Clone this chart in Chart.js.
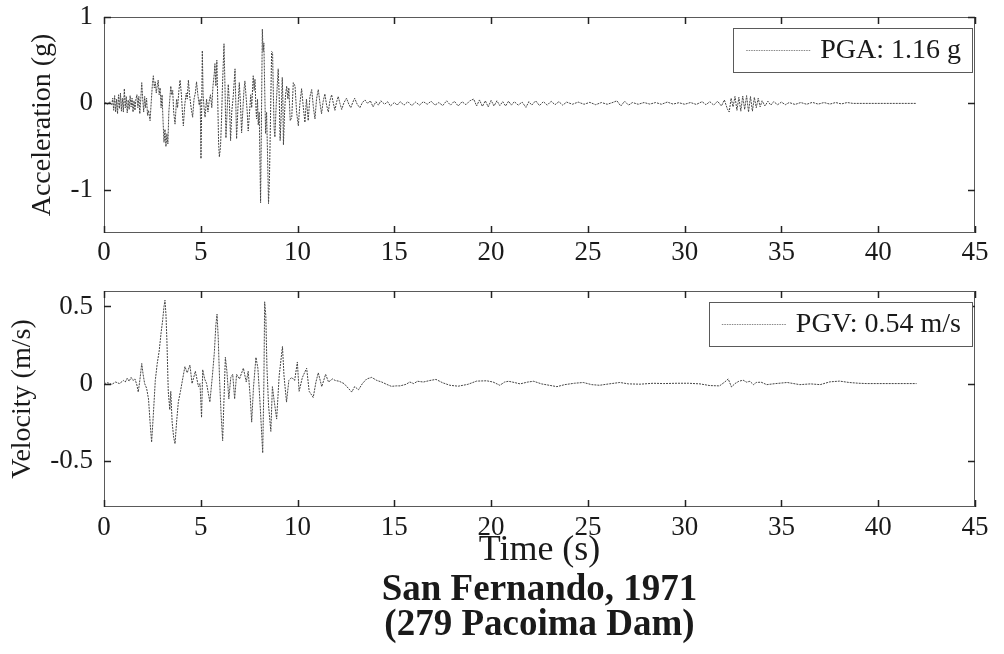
<!DOCTYPE html>
<html>
<head>
<meta charset="utf-8">
<script src="https://cdn.jsdelivr.net/npm/chart.js@4.4.1/dist/chart.umd.min.js"></script>
<style>
  html, body { margin: 0; padding: 0; background: #fff; }
  #wrap { position: relative; width: 1004px; height: 654px; }
  #accBox { position: absolute; left: 0; top: 0; width: 1004px; height: 270px; }
  #velBox { position: absolute; left: 0; top: 270px; width: 1004px; height: 384px; }
</style>
</head>
<body>
<div id="wrap">
  <div id="accBox"><canvas id="accChart"></canvas></div>
  <div id="velBox"><canvas id="velChart"></canvas></div>
</div>
<script>
// ---- data ----
const timeTicks = [0, 5, 10, 15, 20, 25, 30, 35, 40, 45];
const accTicks  = [-1, 0, 1];
const velTicks  = [-0.5, 0, 0.5];

const pgaLabel = 'PGA: 1.16 g';
const pgvLabel = 'PGV: 0.54 m/s';

// [time (s), acceleration (g)]
const accRecord = [
  [0,0],[0.1,0.01],[0.2,-0.01],[0.3,0.02],[0.4,-0.02],
  [0.45,0.06],[0.5,-0.08],[0.55,0.09],[0.6,-0.1],[0.65,0.05],[0.7,-0.12],[0.75,0.1],[0.8,-0.06],
  [0.85,0.12],[0.9,-0.09],[0.95,0.06],[1.0,-0.1],[1.05,0.17],[1.1,-0.05],[1.15,0.08],[1.2,-0.11],
  [1.25,0.04],[1.3,-0.07],[1.35,0.09],[1.4,-0.04],[1.45,0.06],[1.5,-0.1],[1.55,0.03],[1.6,-0.08],
  [1.65,0.05],[1.7,0.1],[1.75,-0.05],[1.8,0.08],[1.85,-0.12],[1.9,0.05],[1.95,0.24],[2.0,0.05],
  [2.05,-0.1],[2.1,0.08],[2.15,-0.05],[2.2,0.06],[2.25,-0.14],[2.3,-0.08],[2.38,-0.2],[2.45,0.05],
  [2.5,0.22],[2.55,0.32],[2.6,0.18],[2.65,0.25],[2.7,0.12],[2.75,0.2],[2.8,0.27],[2.85,0.1],
  [2.9,0.18],[2.95,-0.05],[3.0,0.1],[3.05,-0.2],[3.1,-0.45],[3.15,-0.3],[3.2,-0.5],[3.25,-0.35],
  [3.3,-0.47],[3.35,-0.1],[3.4,0.05],[3.45,0.2],[3.5,0.1],[3.55,0.15],[3.6,-0.1],[3.67,-0.24],
  [3.75,0.05],[3.8,-0.05],[3.87,0.15],[3.93,0.27],[4.0,0.1],[4.05,-0.1],[4.1,-0.26],[4.18,0.0],
  [4.25,0.12],[4.3,0.05],[4.36,0.27],[4.42,0.1],[4.5,-0.05],[4.58,-0.16],[4.65,0.05],[4.72,0.12],
  [4.78,0.25],[4.85,0.1],[4.92,-0.02],[4.97,0.05],[5.01,-0.64],[5.05,0.0],[5.08,0.61],[5.12,0.1],
  [5.17,-0.05],[5.22,-0.16],[5.3,0.05],[5.37,-0.1],[5.43,0.02],[5.5,0.1],[5.57,-0.05],[5.63,0.2],
  [5.7,0.35],[5.73,0.46],[5.78,0.2],[5.83,0.5],[5.88,0.0],[5.92,-0.45],[5.96,-0.62],[6.02,-0.5],
  [6.07,-0.2],[6.12,0.2],[6.2,0.69],[6.25,0.2],[6.3,-0.4],[6.36,-0.1],[6.42,0.22],[6.48,0.0],
  [6.54,-0.43],[6.6,-0.1],[6.65,0.02],[6.68,0.09],[6.77,0.4],[6.81,0.0],[6.85,-0.41],[6.92,-0.05],
  [6.99,0.24],[7.05,0.0],[7.11,-0.34],[7.18,-0.05],[7.23,0.15],[7.28,0.26],[7.35,0.05],[7.4,-0.1],
  [7.45,-0.32],[7.52,-0.1],[7.58,0.1],[7.63,-0.05],[7.71,0.32],[7.76,0.15],[7.8,0.28],[7.84,0.0],
  [7.88,-0.18],[7.93,0.05],[7.97,-0.25],[8.02,-0.1],[8.09,-1.15],[8.13,-0.3],[8.18,0.86],[8.22,0.6],
  [8.26,0.7],[8.3,0.2],[8.35,-0.35],[8.4,-0.1],[8.45,-0.6],[8.5,-1.16],[8.55,-0.85],[8.6,-0.2],
  [8.66,0.6],[8.71,0.59],[8.75,0.1],[8.79,-0.29],[8.83,-0.39],[8.9,0.0],[8.95,0.2],[9.0,0.4],
  [9.05,0.1],[9.1,-0.43],[9.16,-0.1],[9.21,0.3],[9.24,0.05],[9.27,-0.48],[9.33,-0.1],[9.38,0.1],
  [9.44,0.2],[9.5,0.05],[9.55,0.18],[9.62,-0.2],[9.7,-0.16],[9.78,0.24],[9.87,0.2],[9.95,-0.1],
  [10.04,-0.26],[10.12,0.0],[10.21,0.17],[10.3,-0.05],[10.38,-0.22],[10.46,0.05],[10.55,-0.2],[10.64,0.08],
  [10.73,0.16],[10.82,-0.05],[10.9,-0.18],[10.98,0.05],[11.07,0.16],[11.16,0.0],[11.24,-0.12],[11.32,0.02],
  [11.41,0.11],[11.5,-0.02],[11.59,-0.1],[11.67,0.03],[11.76,0.1],[11.85,0.0],[11.93,-0.08],[12.02,0.02],
  [12.1,0.08],[12.19,0.0],[12.28,-0.07],[12.4,0.01],[12.53,0.06],[12.65,-0.01],[12.75,-0.05],[12.85,0.01],
  [12.95,0.06],[13.08,-0.01],[13.22,-0.05],[13.35,0.01],[13.48,0.04],[13.62,0.0],[13.76,0.03],[13.9,-0.04],
  [14.05,0.02],[14.18,-0.02],[14.3,0.03],[14.5,-0.01],[14.65,0.02],[14.8,-0.03],[15.0,0.01],[15.15,-0.02],
  [15.3,0.02],[15.5,-0.02],[15.7,0.02],[15.9,-0.025],[16.1,0.015],[16.3,-0.02],[16.5,0.02],[16.7,-0.01],
  [16.9,0.025],[17.1,-0.02],[17.3,0.01],[17.5,-0.025],[17.7,0.03],[17.9,-0.02],[18.1,0.025],[18.3,-0.03],
  [18.5,0.02],[18.7,-0.015],[18.9,0.03],[19.1,0.05],[19.25,-0.03],[19.4,0.04],[19.55,-0.035],[19.7,0.03],
  [19.85,-0.04],[20.0,0.035],[20.15,-0.03],[20.3,0.03],[20.45,-0.025],[20.6,0.02],[20.75,-0.03],[20.9,0.025],
  [21.05,-0.02],[21.2,0.02],[21.4,-0.02],[21.6,0.015],[21.8,-0.046],[21.95,0.02],[22.1,-0.02],[22.3,0.03],
  [22.5,-0.025],[22.7,0.02],[22.9,-0.02],[23.1,0.025],[23.3,-0.015],[23.5,0.02],[23.7,-0.02],[23.9,0.015],
  [24.2,-0.01],[24.5,0.015],[24.8,-0.01],[25.1,0.012],[25.4,-0.015],[25.7,0.01],[26.0,-0.01],[26.3,0.012],
  [26.5,0.03],[26.7,-0.03],[26.9,0.025],[27.1,-0.02],[27.3,0.01],[27.6,-0.01],[27.9,0.01],[28.2,-0.008],
  [28.5,0.01],[28.8,-0.01],[29.1,0.015],[29.4,-0.008],[29.7,0.008],[30.0,-0.01],[30.3,0.01],[30.6,-0.012],
  [30.9,0.02],[31.1,-0.015],[31.3,0.02],[31.5,-0.02],[31.7,0.025],[31.9,-0.03],[32.05,0.04],[32.2,-0.06],
  [32.3,-0.1],[32.4,0.06],[32.5,-0.04],[32.6,0.08],[32.7,-0.08],[32.8,0.07],[32.9,-0.09],[33.0,0.085],
  [33.1,-0.07],[33.2,0.09],[33.3,-0.1],[33.4,0.08],[33.5,-0.09],[33.6,0.07],[33.7,-0.05],[33.8,0.06],
  [33.9,-0.04],[34.0,0.03],[34.15,-0.03],[34.3,0.025],[34.45,-0.02],[34.6,0.02],[34.8,-0.015],[35.0,0.015],
  [35.2,-0.015],[35.4,0.01],[35.7,-0.012],[36.0,0.01],[36.3,-0.01],[36.6,0.012],[36.9,-0.008],[37.2,0.01],
  [37.5,-0.008],[37.8,0.01],[38.1,-0.006],[38.4,0.01],[38.7,0],[41.98,0]
];

// [time (s), velocity (m/s)]
const velRecord = [
  [0,0],[0.2,0.005],[0.4,-0.005],[0.6,0.01],[0.8,0.0],[1.0,0.02],[1.1,0.01],[1.2,0.035],
  [1.3,0.015],[1.4,0.04],[1.5,0.02],[1.6,0.03],[1.7,-0.01],[1.77,-0.055],[1.85,0.02],[1.95,0.13],
  [2.02,0.06],[2.1,0.0],[2.2,-0.03],[2.3,-0.1],[2.38,-0.25],[2.46,-0.38],[2.55,-0.2],[2.65,0.02],
  [2.75,0.13],[2.85,0.21],[2.95,0.33],[3.03,0.41],[3.1,0.5],[3.15,0.54],[3.2,0.45],[3.25,0.28],
  [3.32,-0.05],[3.4,-0.17],[3.45,-0.05],[3.52,-0.25],[3.6,-0.35],[3.67,-0.39],[3.75,-0.25],[3.84,-0.12],
  [3.95,-0.05],[4.05,0.02],[4.18,0.11],[4.3,0.07],[4.44,0.12],[4.55,0.0],[4.72,0.08],[4.88,-0.02],
  [4.96,0.0],[5.04,-0.22],[5.1,0.09],[5.2,0.03],[5.3,0.0],[5.47,-0.12],[5.6,0.05],[5.7,0.2],
  [5.78,0.38],[5.84,0.45],[5.9,0.3],[5.97,0.03],[6.05,-0.2],[6.13,-0.37],[6.2,-0.1],[6.27,0.17],
  [6.35,0.08],[6.45,-0.1],[6.55,0.04],[6.65,0.06],[6.75,-0.1],[6.85,0.06],[7.0,0.03],[7.2,0.1],
  [7.35,0.01],[7.45,0.08],[7.55,-0.08],[7.63,-0.25],[7.72,-0.03],[7.85,0.17],[7.95,0.1],[8.05,-0.1],
  [8.2,-0.45],[8.26,0.0],[8.3,0.53],[8.36,0.44],[8.42,0.1],[8.5,-0.14],[8.62,-0.31],[8.7,-0.02],
  [8.78,-0.1],[8.92,-0.23],[9.05,0.05],[9.22,0.24],[9.3,0.05],[9.43,-0.12],[9.55,0.02],[9.7,0.04],
  [9.85,0.02],[9.99,0.14],[10.08,-0.05],[10.25,0.04],[10.47,0.1],[10.6,-0.05],[10.81,-0.09],[10.95,0.01],
  [11.07,0.07],[11.25,-0.02],[11.45,0.06],[11.6,0.01],[11.8,0.03],[11.95,0.02],[12.15,0.015],[12.4,0.0],
  [12.62,-0.03],[12.8,-0.055],[12.95,-0.02],[13.15,-0.04],[13.35,0.0],[13.57,0.03],[13.83,0.04],[14.1,0.02],
  [14.35,0.01],[14.6,-0.005],[14.85,-0.018],[15.1,-0.015],[15.3,-0.015],[15.6,-0.005],[15.8,0.01],[16.0,0.0],
  [16.2,0.015],[16.5,0.01],[16.84,0.02],[17.15,0.027],[17.5,0.005],[17.87,-0.011],[18.3,-0.017],[18.8,-0.005],
  [19.25,0.016],[19.77,0.018],[20.1,0.01],[20.45,-0.011],[20.7,0.01],[20.9,0.015],[21.2,0.007],[21.5,-0.002],
  [21.9,0.01],[22.2,0.015],[22.6,-0.002],[23.4,-0.02],[23.8,-0.007],[24.3,0.002],[24.76,0.007],[25.2,-0.007],
  [25.6,-0.011],[26.1,-0.002],[26.65,0.007],[27.1,-0.002],[27.7,-0.004],[28.38,0.002],[28.9,0.0],[29.6,0.002],
  [30.2,0.002],[30.79,-0.002],[31.3,-0.013],[31.8,-0.015],[32.08,0.011],[32.25,0.03],[32.42,-0.022],[32.6,0.0],
  [32.8,0.015],[33.02,0.022],[33.2,0.009],[33.37,0.015],[33.55,-0.007],[33.7,0.007],[33.95,0.009],[34.24,-0.007],
  [34.7,0.0],[35.3,0.007],[35.95,-0.007],[36.5,-0.002],[37.0,-0.007],[37.5,0.011],[38.0,0.016],[38.5,0.007],
  [39.0,0.002],[39.4,0.0],[41.98,0]
];

// ---- look ----
const FONT = '"Liberation Serif", "Times New Roman", serif';
const TRACE = '#454545';
const TEXT = '#1a1a1a';

Chart.defaults.font.family = FONT;
Chart.defaults.color = TEXT;

// frame, inward ticks on all four sides, boxed legend
const matlabFrame = {
    id: 'matlabFrame',
    afterDatasetsDraw(chart) {
        const { ctx, chartArea: a, scales: { x, y } } = chart;
        ctx.save();

        ctx.strokeStyle = '#5a5a5a';
        ctx.lineWidth = 1;
        ctx.setLineDash([]);
        ctx.strokeRect(a.left + 0.5, a.top + 0.5, a.right - a.left - 1, a.bottom - a.top - 1);

        ctx.strokeStyle = '#222';
        ctx.lineWidth = 1.5;
        ctx.beginPath();
        x.ticks.forEach(t => {
            const px = Math.round(x.getPixelForValue(t.value)) + 0.5;
            ctx.moveTo(px, a.bottom); ctx.lineTo(px, a.bottom - 7);
            ctx.moveTo(px, a.top);    ctx.lineTo(px, a.top + 7);
        });
        y.ticks.forEach(t => {
            const py = Math.round(y.getPixelForValue(t.value)) + 0.5;
            ctx.moveTo(a.left, py);  ctx.lineTo(a.left + 7, py);
            ctx.moveTo(a.right, py); ctx.lineTo(a.right - 7, py);
        });
        ctx.stroke();

        /* legend box */
        const ds = chart.data.datasets[0];
        ctx.font = '28px ' + FONT;
        const tw = ctx.measureText(ds.label).width;
        const bw = tw + 98, bh = 44;
        const bx = a.right - 3 - bw, by = a.top + 11;
        ctx.fillStyle = '#fff';
        ctx.fillRect(bx, by, bw, bh);
        ctx.strokeStyle = '#5a5a5a';
        ctx.lineWidth = 1;
        ctx.strokeRect(Math.round(bx) + 0.5, by + 0.5, Math.round(bw), bh);

        ctx.strokeStyle = '#888';
        ctx.setLineDash([1.5, 1]);
        ctx.beginPath();
        ctx.moveTo(bx + 13, by + bh / 2 + 0.5);
        ctx.lineTo(bx + 78, by + bh / 2 + 0.5);
        ctx.stroke();
        ctx.setLineDash([]);

        ctx.fillStyle = TEXT;
        ctx.textBaseline = 'middle';
        ctx.textAlign = 'left';
        ctx.fillText(ds.label, bx + 87, by + bh / 2 + 1);

        ctx.restore();
    }
};

function makeChart(canvasId, record, label, yMin, yMax, yTicks, opts) {
    return new Chart(document.getElementById(canvasId), {
        type: 'line',
        data: {
            datasets: [{
                label: label,
                data: record.map(p => ({ x: p[0], y: p[1] })),
                borderColor: TRACE,
                borderWidth: 1,
                borderDash: [2, 1],
                pointRadius: 0,
                tension: 0,
                fill: false
            }]
        },
        options: {
            animation: false,
            responsive: true,
            maintainAspectRatio: false,
            devicePixelRatio: 1,
            layout: { padding: opts.padding },
            plugins: {
                legend: { display: false },
                tooltip: { enabled: false },
                title: opts.title || { display: false }
            },
            scales: {
                x: {
                    type: 'linear',
                    min: 0,
                    max: 45,
                    grid: { display: false, drawTicks: false },
                    border: { display: false },
                    afterBuildTicks: s => { s.ticks = timeTicks.map(v => ({ value: v })); },
                    afterFit: s => { s.height = opts.xHeight; },
                    ticks: {
                        padding: opts.xPad,
                        maxRotation: 0,
                        color: TEXT,
                        font: { size: 27, lineHeight: 1.2 }
                    },
                    title: opts.xTitle || { display: false }
                },
                y: {
                    min: yMin,
                    max: yMax,
                    grid: { display: false, drawTicks: false },
                    border: { display: false },
                    afterBuildTicks: s => { s.ticks = yTicks.map(v => ({ value: v })); },
                    afterFit: s => {
                        s.width = 104;
                        s.paddingTop = 0;
                        s.paddingBottom = 0;
                    },
                    ticks: {
                        padding: 11,
                        color: TEXT,
                        font: { size: 27, lineHeight: 1.2 }
                    },
                    title: {
                        display: true,
                        text: opts.yTitle,
                        color: TEXT,
                        font: { size: 28, lineHeight: 1.2 },
                        padding: { top: opts.yTitlePad, bottom: 0 }
                    }
                }
            }
        },
        plugins: [matlabFrame]
    });
}

makeChart('accChart', accRecord, pgaLabel, -1.5, 1, accTicks, {
    padding: { top: 17, right: 29, bottom: 0, left: 0 },
    xHeight: 37,
    xPad: 4,
    yTitle: 'Acceleration (g)',
    yTitlePad: 26
});

makeChart('velChart', velRecord, pgvLabel, -0.8, 0.6, velTicks, {
    padding: { top: 21, right: 29, bottom: 11.5, left: 0 },
    xHeight: 61.5,
    xPad: 5,
    yTitle: 'Velocity (m/s)',
    yTitlePad: 6,
    xTitle: {
        display: true,
        text: 'Time (s)',
        color: TEXT,
        font: { size: 36, lineHeight: 1 },
        padding: { top: 0, bottom: 0 }
    },
    title: {
        display: true,
        fullSize: false,
        position: 'bottom',
        text: ['San Fernando, 1971', '(279 Pacoima Dam)'],
        color: TEXT,
        font: { size: 37, weight: 'bold', lineHeight: 0.946 },
        padding: { top: 4, bottom: 0 }
    }
});
</script>
</body>
</html>
